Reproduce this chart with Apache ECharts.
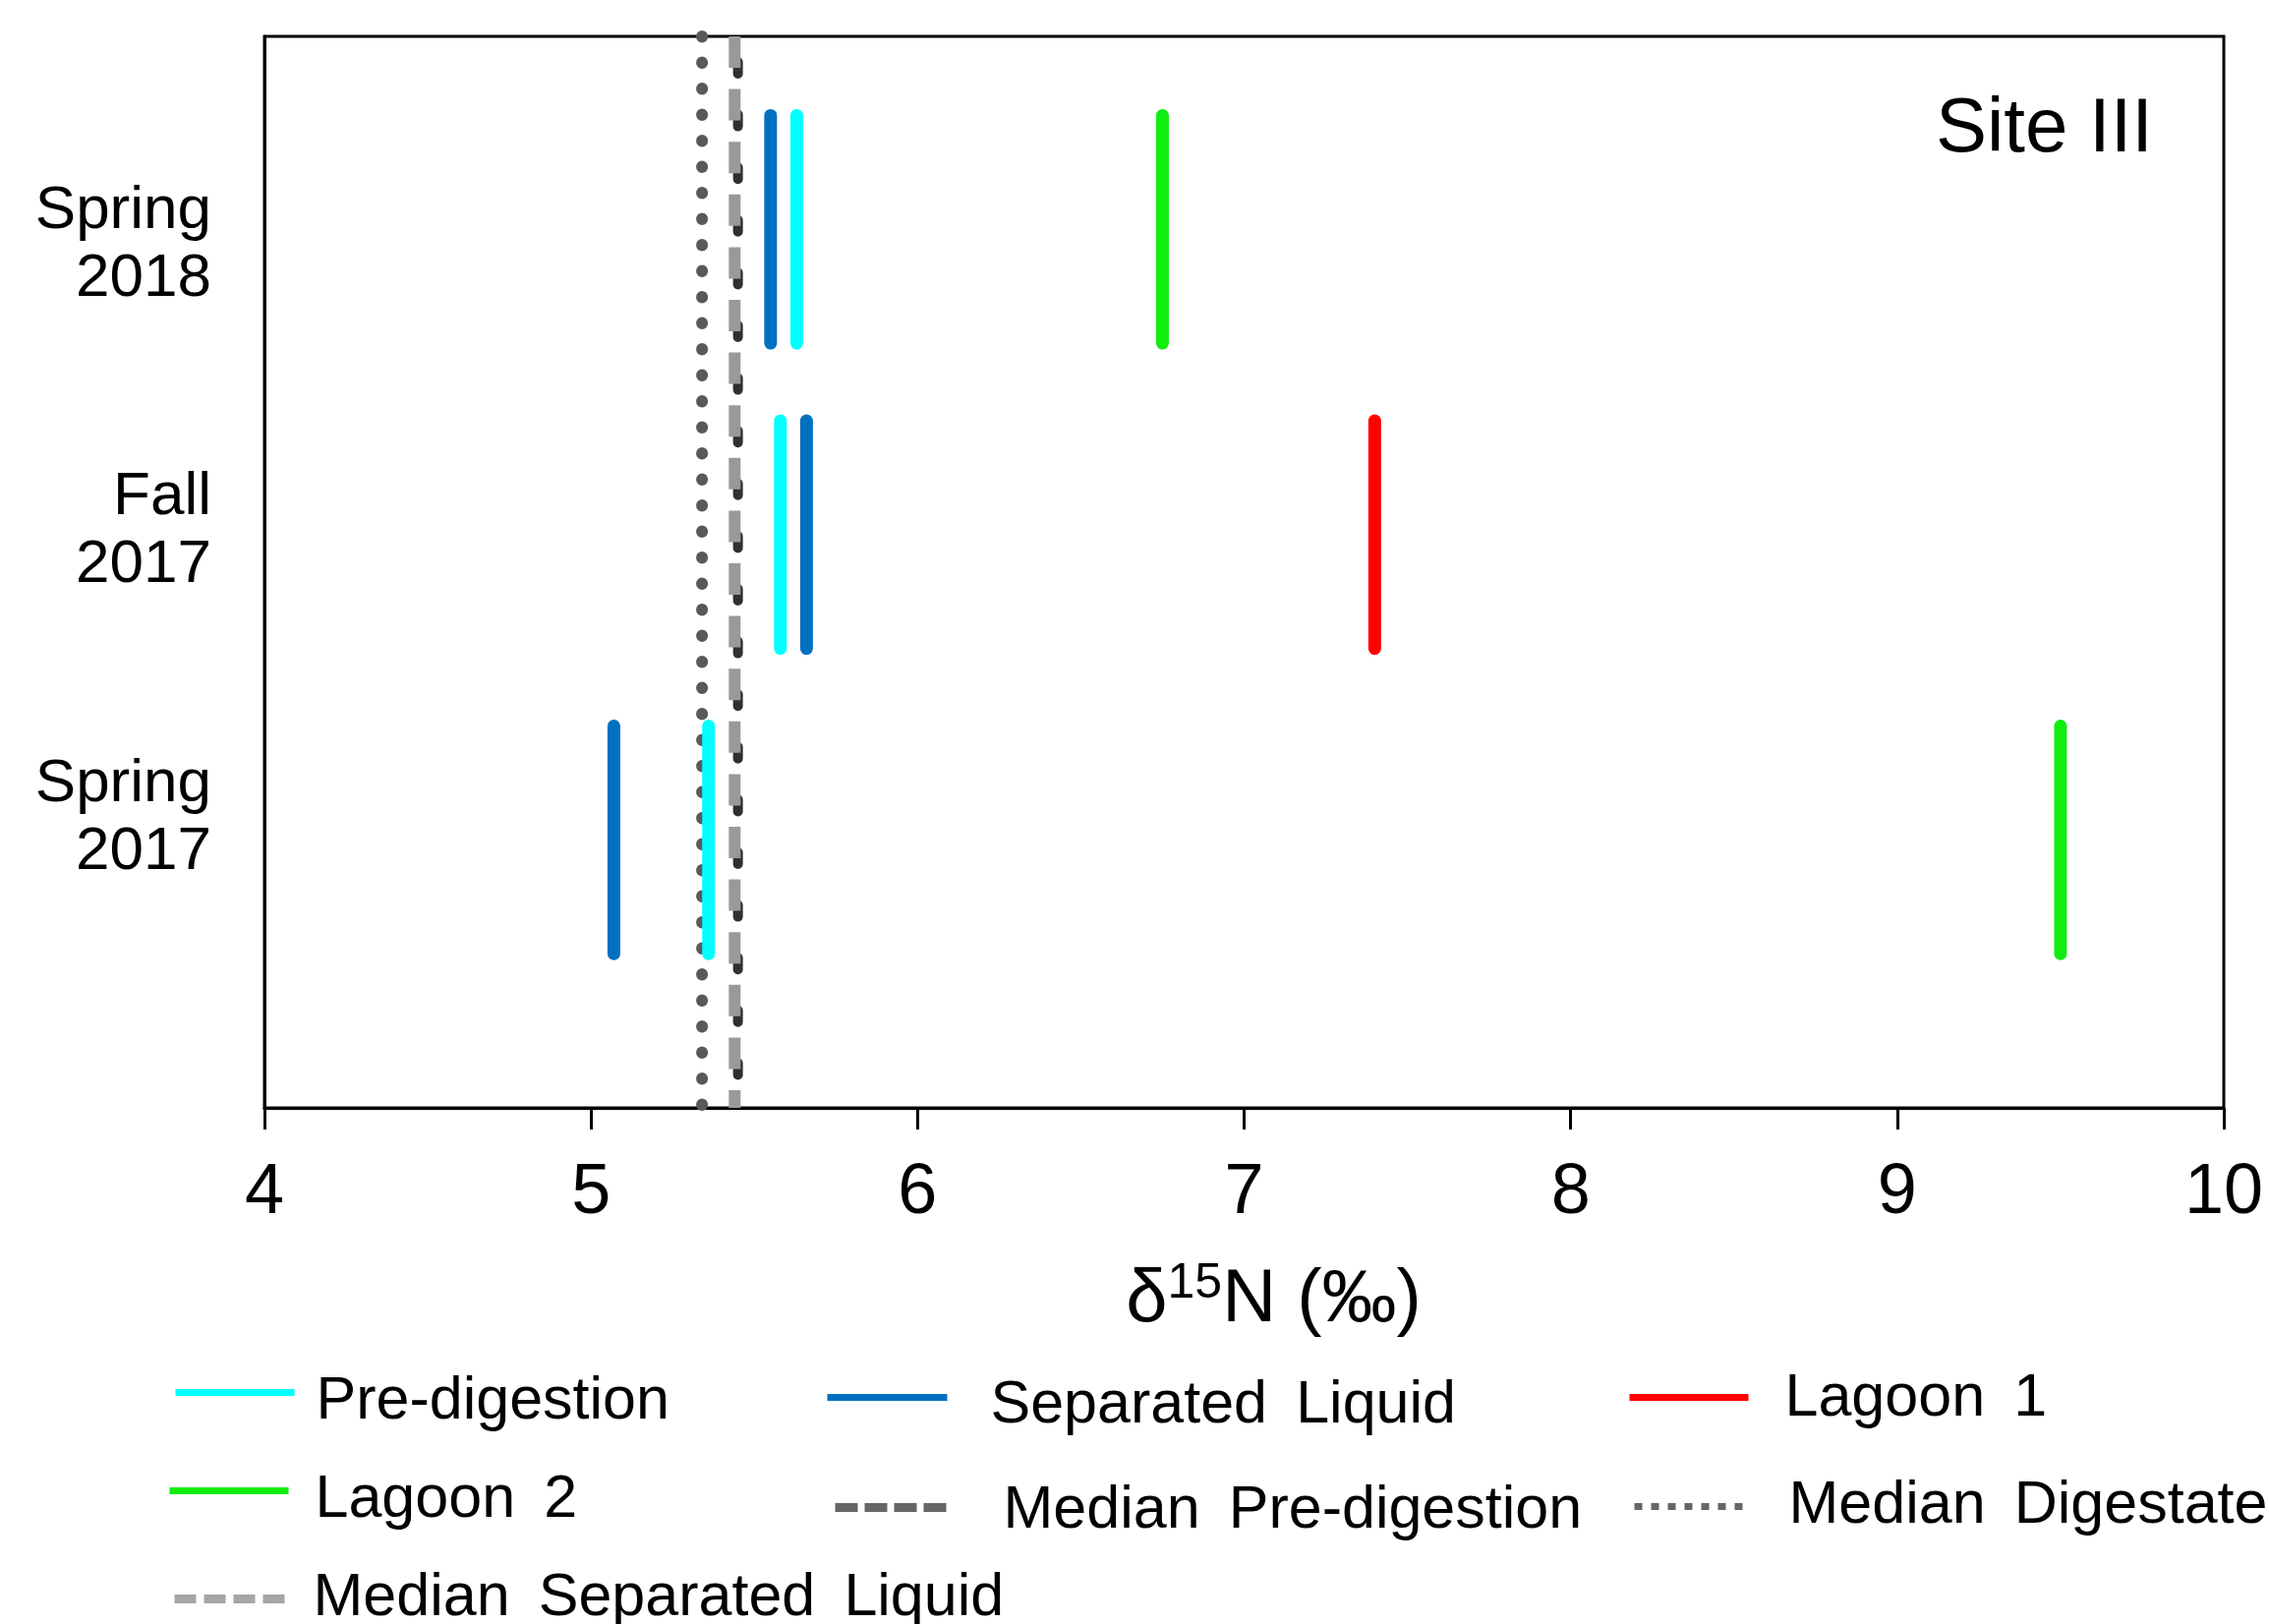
<!DOCTYPE html>
<html>
<head>
<meta charset="utf-8">
<script src="https://cdn.jsdelivr.net/npm/echarts@6/dist/echarts.min.js"></script>
<style>
html,body{margin:0;padding:0;background:#fff;}
#chart{width:2308px;height:1652px;}
</style>
</head>
<body>
<div id="chart"></div>
<script>
// ---- data ----
const categories = ['Spring\n2017', 'Fall\n2017', 'Spring\n2018'];
const catPos = [1, 2, 3];
const preDigestion = [5.36, 5.58, 5.63];
const separatedLiquid = [5.07, 5.66, 5.55];
const lagoon1 = [null, 7.40, null];
const lagoon2 = [9.50, null, 6.75];
const medianPreDigestion = 5.45;
const medianDigestate = 5.34;
const medianSeparatedLiquid = 5.44;
const xTicks = [4, 5, 6, 7, 8, 9, 10];

// ---- layout ----
const FONT = 'Arial, "Liberation Sans", sans-serif';
const Y_MIN = 0.122, Y_MAX = 3.632;
const HALF = 0.373;
const labelPos = [1.072, 2.010, 2.947];

const groups = [
  {name: 'Pre-digestion', values: preDigestion, color: '#00FFFF'},
  {name: 'Separated Liquid', values: separatedLiquid, color: '#0070C0'},
  {name: 'Lagoon 1', values: lagoon1, color: '#FF0000'},
  {name: 'Lagoon 2', values: lagoon2, color: '#10EE10'}
];

const series = [];
// median lines (drawn first, beneath the bars)
series.push({
  name: 'Median Digestate', type: 'line', symbol: 'none', silent: true,
  data: [[medianDigestate, Y_MAX], [medianDigestate, Y_MIN]],
  lineStyle: {color: '#595959', width: 12, type: [0.5, 26], cap: 'round'}
});
series.push({
  name: 'Median Pre-digestion', type: 'line', symbol: 'none', silent: true,
  data: [[medianPreDigestion, Y_MAX], [medianPreDigestion, Y_MIN]],
  lineStyle: {color: '#303030', width: 10, type: [12, 41.6], dashOffset: 27.6, cap: 'round'}
});
series.push({
  name: 'Median Separated Liquid', type: 'line', symbol: 'none', silent: true,
  data: [[medianSeparatedLiquid, Y_MAX], [medianSeparatedLiquid, Y_MIN]],
  lineStyle: {color: '#999999', width: 12, type: [32, 21.6]}
});
groups.forEach(g => {
  g.values.forEach((v, i) => {
    if (v === null) return;
    series.push({
      name: g.name, type: 'line', symbol: 'none', silent: true,
      color: g.color,
      data: [[v, catPos[i] - HALF], [v, catPos[i] + HALF]],
      lineStyle: {color: g.color, width: 13, cap: 'round'}
    });
  });
});

// legend layout: icon left / width / centre y, text shift relative to icon, text start x
const legendItems = [
  {name: 'Pre-digestion', left: 175, w: 121, iy: 1416, dy: 10, tx: 322, ls: {width: 7, cap: 'butt'}},
  {name: 'Separated Liquid', left: 838, w: 122, iy: 1421, dy: 9, tx: 1008, ls: {width: 7, cap: 'butt'}},
  {name: 'Lagoon 1', left: 1654, w: 121, iy: 1421, dy: 2, tx: 1816, ls: {width: 7, cap: 'butt'}},
  {name: 'Lagoon 2', left: 169, w: 121, iy: 1516, dy: 10, tx: 321, ls: {width: 7, cap: 'butt'}},
  {name: 'Median Pre-digestion', left: 845, w: 113, iy: 1533, dy: 4, tx: 1020, ls: {width: 9, cap: 'butt', color: '#666666', type: [23, 7], dashOffset: 0}},
  {name: 'Median Digestate', left: 1659, w: 113, iy: 1532, dy: 0, tx: 1820, ls: {width: 7, cap: 'butt', color: '#666666', type: [8, 9], dashOffset: 0}},
  {name: 'Median Separated Liquid', left: 173, w: 114, iy: 1626, dy: 0, tx: 318, ls: {width: 9, cap: 'butt', color: '#A6A6A6', type: [22, 8], dashOffset: 0}}
];
const LH = 60;
const legends = legendItems.map(it => {
  const pt = Math.max(0, 2 * it.dy), pb = Math.max(0, -2 * it.dy);
  const T = LH + pt + pb;
  const pl = it.tx - (it.left + it.w) - 5 - 4;
  return {
    data: [it.name], left: it.left, top: it.iy - T / 2,
    itemWidth: it.w, itemHeight: 16, padding: 0, selectedMode: false,
    formatter: n => '{t|' + n.replace(/ /g, ' \u2009') + '}',
    textStyle: {
      fontSize: 61, fontFamily: FONT, color: '#000', lineHeight: LH, padding: [0, 0, 0, pl],
      rich: {t: {fontSize: 61, fontFamily: FONT, color: '#000', lineHeight: LH, padding: [pt, 0, pb, 0]}}
    },
    lineStyle: it.ls,
    itemStyle: {opacity: 0}
  };
});

const chart = echarts.init(document.getElementById('chart'), null, {renderer: 'canvas'});
chart.setOption({
  animation: false,
  backgroundColor: '#fff',
  grid: {left: 269, right: 46, top: 37, bottom: 525, containLabel: false, outerBoundsMode: 'none',
         show: true, borderColor: '#000', borderWidth: 3},
  xAxis: {
    type: 'value', min: xTicks[0], max: xTicks[xTicks.length - 1], interval: 1,
    name: '{a|δ}{sup|15}{a|N (‰)}', nameLocation: 'middle', nameGap: 154,
    nameTextStyle: {
      padding: [0, 0, 0, 60],
      rich: {
        a: {fontSize: 76, fontFamily: FONT, color: '#000', lineHeight: 84, verticalAlign: 'middle'},
        sup: {fontSize: 50, fontFamily: FONT, color: '#000', lineHeight: 50, verticalAlign: 'top'}
      }
    },
    axisLine: {show: true, lineStyle: {color: '#000', width: 3}},
    axisTick: {show: true, length: 22, lineStyle: {color: '#000', width: 3}},
    axisLabel: {fontSize: 72, fontFamily: FONT, color: '#000', margin: 51},
    splitLine: {show: false}
  },
  yAxis: {
    type: 'value', min: Y_MIN, max: Y_MAX,
    axisLine: {show: true, lineStyle: {color: '#000', width: 3}},
    axisTick: {show: false},
    splitLine: {show: false},
    axisLabel: {
      customValues: labelPos,
      fontSize: 62, fontFamily: FONT, color: '#000', lineHeight: 69, margin: 54, align: 'right',
      formatter: v => {
        let best = 0, bd = Infinity;
        labelPos.forEach((p, i) => { const d = Math.abs(p - v); if (d < bd) { bd = d; best = i; } });
        return categories[best];
      }
    }
  },
  legend: legends,
  graphic: [{
    type: 'text', right: 2308 - 2190, top: 126 - 33,
    style: {text: 'Site III', font: '78px ' + FONT, fill: '#000', textAlign: 'right'}
  }],
  series: series
});
</script>
</body>
</html>
